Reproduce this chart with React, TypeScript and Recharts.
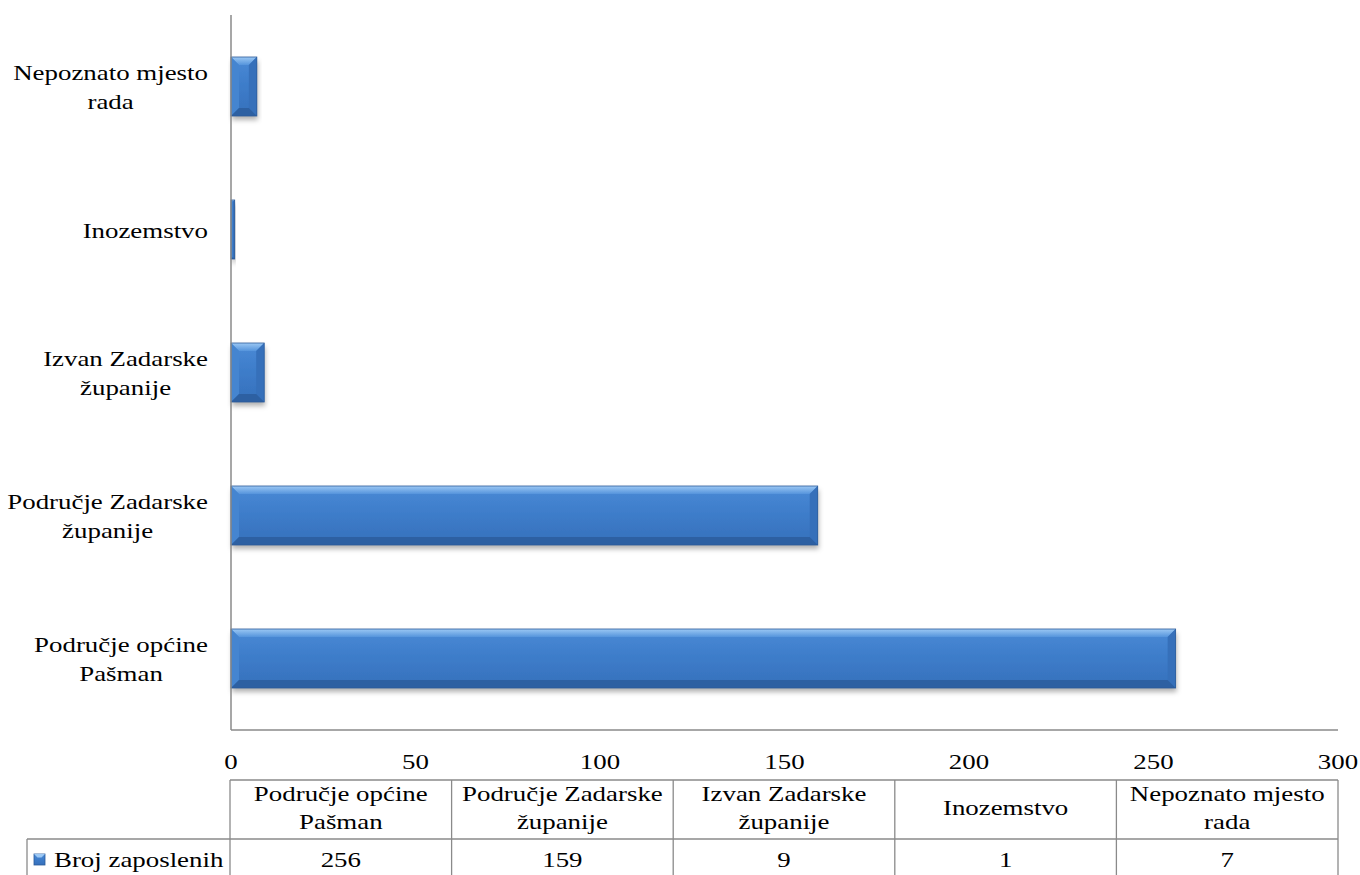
import { BarChart, Bar, XAxis, YAxis } from "recharts";

// values
const categories = [
  "Područje općine\nPašman",
  "Područje Zadarske\nžupanije",
  "Izvan Zadarske\nžupanije",
  "Inozemstvo",
  "Nepoznato mjesto\nrada",
];
const employed = [256, 159, 9, 1, 7];
const xTicks = [0, 50, 100, 150, 200, 250, 300];
const seriesName = "Broj zaposlenih";

const data = categories.map((name, i) => ({ name, value: employed[i] }));

const W = 1360;
const H = 875;
const PLOT_LEFT = 231;
const PLOT_RIGHT = 1338;
const PLOT_TOP = 15;
const AXIS_Y = 730;
const FONT = "Liberation Serif";
const FS = 21;
const STRETCH = 1.28; // the original picture is stretched horizontally
const GRID = "#8a8a8a";

let ctx: CanvasRenderingContext2D | null = null;
const measure = (s: string) => {
  if (!ctx) ctx = document.createElement("canvas").getContext("2d");
  if (!ctx) return s.length * 10;
  ctx.font = `${FS}px "Liberation Serif"`;
  return ctx.measureText(s).width * STRETCH;
};

// text drawn at the origin, then moved and widened with an svg transform
const Label = ({ x, y, children, anchor = "middle" }: any) => (
  <text
    x={0}
    y={0}
    transform={`translate(${x},${y}) scale(${STRETCH},1)`}
    textAnchor={anchor}
    dominantBaseline="central"
    fill="#000"
    fontFamily={FONT}
    fontSize={FS}
    style={{ fontFamily: FONT, fontSize: FS }}
  >
    {children}
  </text>
);

const CategoryTick = ({ y, payload }: any) => {
  const lines = String(payload.value).split("\n");
  const maxW = Math.max(...lines.map(measure));
  const cx = 208 - maxW / 2;
  const lh = 29;
  const y0 = y - ((lines.length - 1) * lh) / 2 + 1.5;
  return (
    <g>
      {lines.map((l, i) => (
        <Label key={i} x={cx} y={y0 + i * lh}>{l}</Label>
      ))}
    </g>
  );
};

const ValueTick = ({ x, payload }: any) => (
  <Label x={x} y={AXIS_Y + 32}>{payload.value}</Label>
);

const BevelBar = ({ x, y, width, height }: any) => {
  if (!width || width <= 0) return null;
  const b = Math.min(8, width / 2, height / 2);
  const r = x + width;
  const bt = y + height;
  return (
    <g>
      <rect x={x} y={y} width={width} height={height} fill="url(#barBody)" filter="url(#barShadow)" />
      <polygon points={`${x},${y} ${r},${y} ${r - b},${y + b} ${x + b},${y + b}`} fill="url(#barTop)" />
      <polygon points={`${x},${y} ${x + b},${y + b} ${x + b},${bt - b} ${x},${bt}`} fill="#4585d0" />
      <polygon points={`${r},${y} ${r},${bt} ${r - b},${bt - b} ${r - b},${y + b}`} fill="#3670ba" />
      <polygon points={`${x},${bt} ${r},${bt} ${r - b},${bt - b} ${x + b},${bt - b}`} fill="#2d60a2" />
      <rect x={x} y={y} width={width} height={height} fill="none" stroke="#2b5b99" strokeWidth={0.8} />
    </g>
  );
};

const DataTable = () => {
  const left = 230;
  const colW = (PLOT_RIGHT - left) / categories.length;
  const top = 780;
  const mid = 839;
  const bottom = H + 2;
  return (
    <svg width={W} height={H} style={{ position: "absolute", left: 0, top: 0, pointerEvents: "none" }}>
      <defs>
        <linearGradient id="barBody" x1="0" y1="0" x2="0" y2="1">
          <stop offset="0%" stopColor="#4a8ad6" />
          <stop offset="50%" stopColor="#3d7cc9" />
          <stop offset="100%" stopColor="#3670bb" />
        </linearGradient>
        <linearGradient id="barTop" x1="0" y1="0" x2="0" y2="1">
          <stop offset="0%" stopColor="#9cc8f4" />
          <stop offset="100%" stopColor="#5594dc" />
        </linearGradient>
        <filter id="barShadow" x="-10%" y="-20%" width="130%" height="150%">
          <feDropShadow dx="1" dy="4" stdDeviation="2.5" floodColor="#000" floodOpacity="0.3" />
        </filter>
      </defs>
      <g stroke={GRID} strokeWidth={1.3} fill="none">
        <line x1={left} y1={top} x2={PLOT_RIGHT} y2={top} />
        <line x1={27} y1={mid} x2={PLOT_RIGHT} y2={mid} />
        <line x1={27} y1={mid} x2={27} y2={bottom} />
        {categories.map((_, i) => (
          <line key={i} x1={left + i * colW} y1={top} x2={left + i * colW} y2={bottom} />
        ))}
        <line x1={PLOT_RIGHT} y1={top} x2={PLOT_RIGHT} y2={bottom} />
      </g>
      {categories.map((c, i) => {
        const lines = c.split("\n");
        const cx = left + (i + 0.5) * colW;
        const y0 = (top + mid) / 2 - ((lines.length - 1) * 28) / 2 - 1;
        return (
          <g key={c}>
            {lines.map((l, j) => (
              <Label key={j} x={cx} y={y0 + j * 28}>{l}</Label>
            ))}
            <Label x={cx} y={860}>{employed[i]}</Label>
          </g>
        );
      })}
      <g>
        <rect x={34} y={854} width={11} height={11} fill="url(#barBody)" stroke="#2b5b99" strokeWidth={0.8} />
        <polygon points="34,854 45,854 41.5,857.5 37.5,857.5" fill="#9cc8f4" />
        <Label x={54} y={860} anchor="start">{seriesName}</Label>
      </g>
    </svg>
  );
};

export default function App() {
  return (
    <div style={{ position: "absolute", left: 0, top: 0, width: W, height: H, background: "#fff", fontFamily: FONT }}>
      <BarChart
        width={W}
        height={H}
        data={data}
        layout="vertical"
        margin={{ top: PLOT_TOP, right: W - PLOT_RIGHT, left: 0, bottom: 0 }}
      >
        <XAxis
          type="number"
          domain={[0, 300]}
          ticks={xTicks}
          interval={0}
          tickLine={false}
          axisLine={{ stroke: GRID, strokeWidth: 1.5 }}
          height={H - AXIS_Y}
          tick={<ValueTick />}
        />
        <YAxis
          type="category"
          dataKey="name"
          reversed
          width={PLOT_LEFT}
          tickLine={false}
          axisLine={{ stroke: GRID, strokeWidth: 1.5 }}
          interval={0}
          tick={<CategoryTick />}
        />
        <Bar
          dataKey="value"
          name={seriesName}
          barSize={59}
          fill="#3d7cc9"
          shape={<BevelBar />}
          isAnimationActive={false}
        />
      </BarChart>
      <DataTable />
    </div>
  );
}
